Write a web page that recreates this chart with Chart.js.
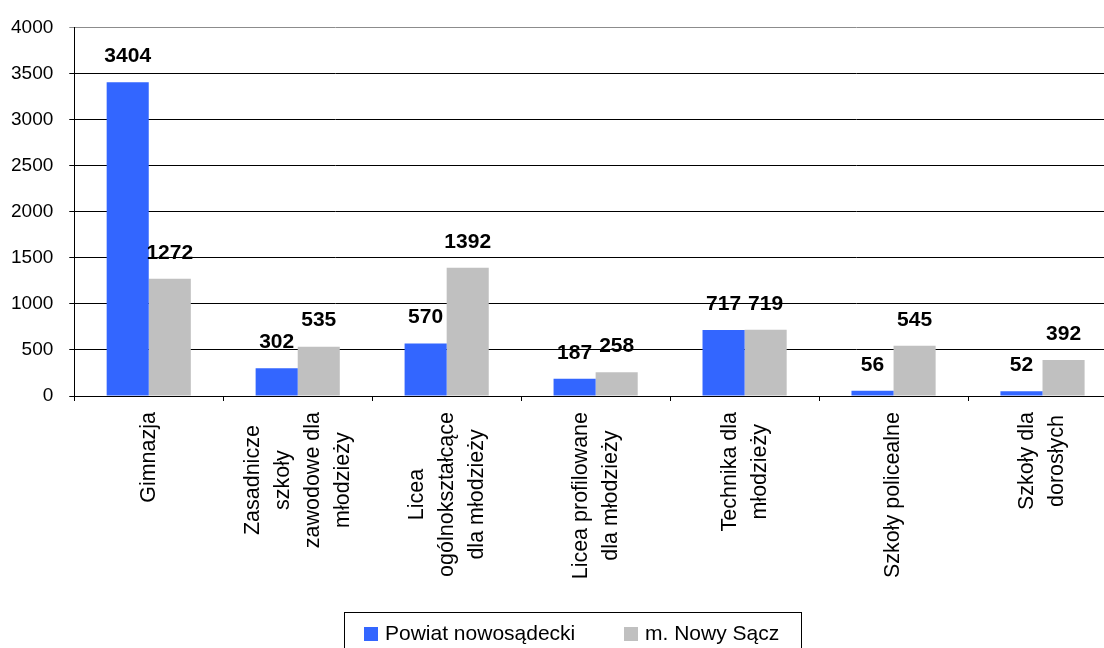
<!DOCTYPE html>
<html>
<head>
<meta charset="utf-8">
<script src="https://cdn.jsdelivr.net/npm/chart.js@4.4.1/dist/chart.umd.min.js"></script>
<style>
  html, body { margin: 0; padding: 0; background: #fff; overflow: hidden; width: 1104px; height: 648px; }
  #c { position: absolute; left: 0; top: 0; }
</style>
</head>
<body>
<canvas id="c" width="1120" height="648"></canvas>
<script>
// ---- data ----
const categories = [
  ["Gimnazja"],
  ["Zasadnicze", "szkoły", "zawodowe dla", "młodzieży"],
  ["Licea", "ogólnokształcące", "dla młodzieży"],
  ["Licea profilowane", "dla młodzieży"],
  ["Technika dla", "młodzieży"],
  ["Szkoły policealne"],
  ["Szkoły dla", "dorosłych"]
];
const seriesNames = ["Powiat nowosądecki", "m. Nowy Sącz"];
const powiatValues = [3404, 302, 570, 187, 717, 56, 52];
const nowySaczValues = [1272, 535, 1392, 258, 719, 545, 392];
const yTicks = [0, 500, 1000, 1500, 2000, 2500, 3000, 3500, 4000];

const FONT = "'Liberation Sans', Arial, sans-serif";
const colors = ["#3366FF", "#C0C0C0"];

const valueLabels = {
  id: 'valueLabels',
  afterDatasetsDraw(chart) {
    const ctx = chart.ctx;
    ctx.save();
    ctx.font = "bold 21px " + FONT;
    ctx.fillStyle = "#000";
    ctx.textAlign = "center";
    ctx.textBaseline = "middle";
    chart.data.datasets.forEach((ds, i) => {
      const meta = chart.getDatasetMeta(i);
      meta.data.forEach((bar, j) => {
        ctx.fillText(String(ds.data[j]), bar.x, bar.y - 26);
      });
    });
    ctx.restore();
  }
};

const catLabels = {
  id: 'catLabels',
  afterDraw(chart) {
    const ctx = chart.ctx;
    const xs = chart.scales.x;
    const bottom = chart.chartArea.bottom;
    ctx.save();
    ctx.font = "21.5px " + FONT;
    ctx.fillStyle = "#000";
    ctx.textAlign = "center";
    ctx.textBaseline = "middle";
    const lineH = 30;
    chart.data.labels.forEach((lines, i) => {
      const cx = xs.getPixelForValue(i);
      let w = 0;
      lines.forEach(l => { w = Math.max(w, ctx.measureText(l).width); });
      const cy = bottom + 16 + w / 2;
      ctx.save();
      ctx.translate(cx, cy);
      ctx.rotate(-Math.PI / 2);
      lines.forEach((l, k) => {
        ctx.fillText(l, 0, (k - (lines.length - 1) / 2) * lineH);
      });
      ctx.restore();
    });
    ctx.restore();
  }
};

const boxLegend = {
  id: 'boxLegend',
  afterDraw(chart) {
    const ctx = chart.ctx;
    ctx.save();
    ctx.strokeStyle = "#000";
    ctx.lineWidth = 1;
    ctx.strokeRect(344.5, 612.5, 457, 50);
    ctx.font = "21px " + FONT;
    ctx.textBaseline = "middle";
    ctx.textAlign = "left";
    const items = [{sx: 364, tx: 385}, {sx: 624, tx: 645}];
    chart.data.datasets.forEach((ds, i) => {
      ctx.fillStyle = ds.backgroundColor;
      ctx.fillRect(items[i].sx, 627, 14, 14);
      ctx.fillStyle = "#000";
      ctx.fillText(ds.label, items[i].tx, 634);
    });
    ctx.restore();
  }
};

new Chart(document.getElementById('c'), {
  type: 'bar',
  data: {
    labels: categories,
    datasets: [
      { label: seriesNames[0], data: powiatValues, backgroundColor: colors[0] },
      { label: seriesNames[1], data: nowySaczValues, backgroundColor: colors[1] }
    ]
  },
  options: {
    responsive: false,
    animation: false,
    devicePixelRatio: 1,
    layout: { padding: { left: -5, top: 24, right: 3, bottom: 247 } },
    datasets: { bar: { categoryPercentage: 0.565, barPercentage: 1.0 } },
    plugins: { legend: { display: false }, tooltip: { enabled: false } },
    scales: {
      x: {
        offset: true,
        grid: { offset: true, drawOnChartArea: false, drawTicks: true, tickLength: 5, color: '#000', lineWidth: 1 },
        border: { display: true, color: '#000', width: 1 },
        ticks: { display: false }
      },
      y: {
        min: 0, max: 4000,
        afterBuildTicks(scale) { scale.ticks = yTicks.map(v => ({ value: v })); },
        grid: {
          color: ctx => (ctx.tick && ctx.tick.value === 4000) ? '#8c8c8c' : '#000',
          lineWidth: 1, tickLength: 5, drawTicks: true
        },
        border: { display: true, color: '#000', width: 1 },
        ticks: {
          font: { family: FONT, size: 19 }, color: '#000', padding: 16,
          callback: v => String(v)
        }
      }
    }
  },
  plugins: [valueLabels, catLabels, boxLegend]
});
</script>
</body>
</html>
